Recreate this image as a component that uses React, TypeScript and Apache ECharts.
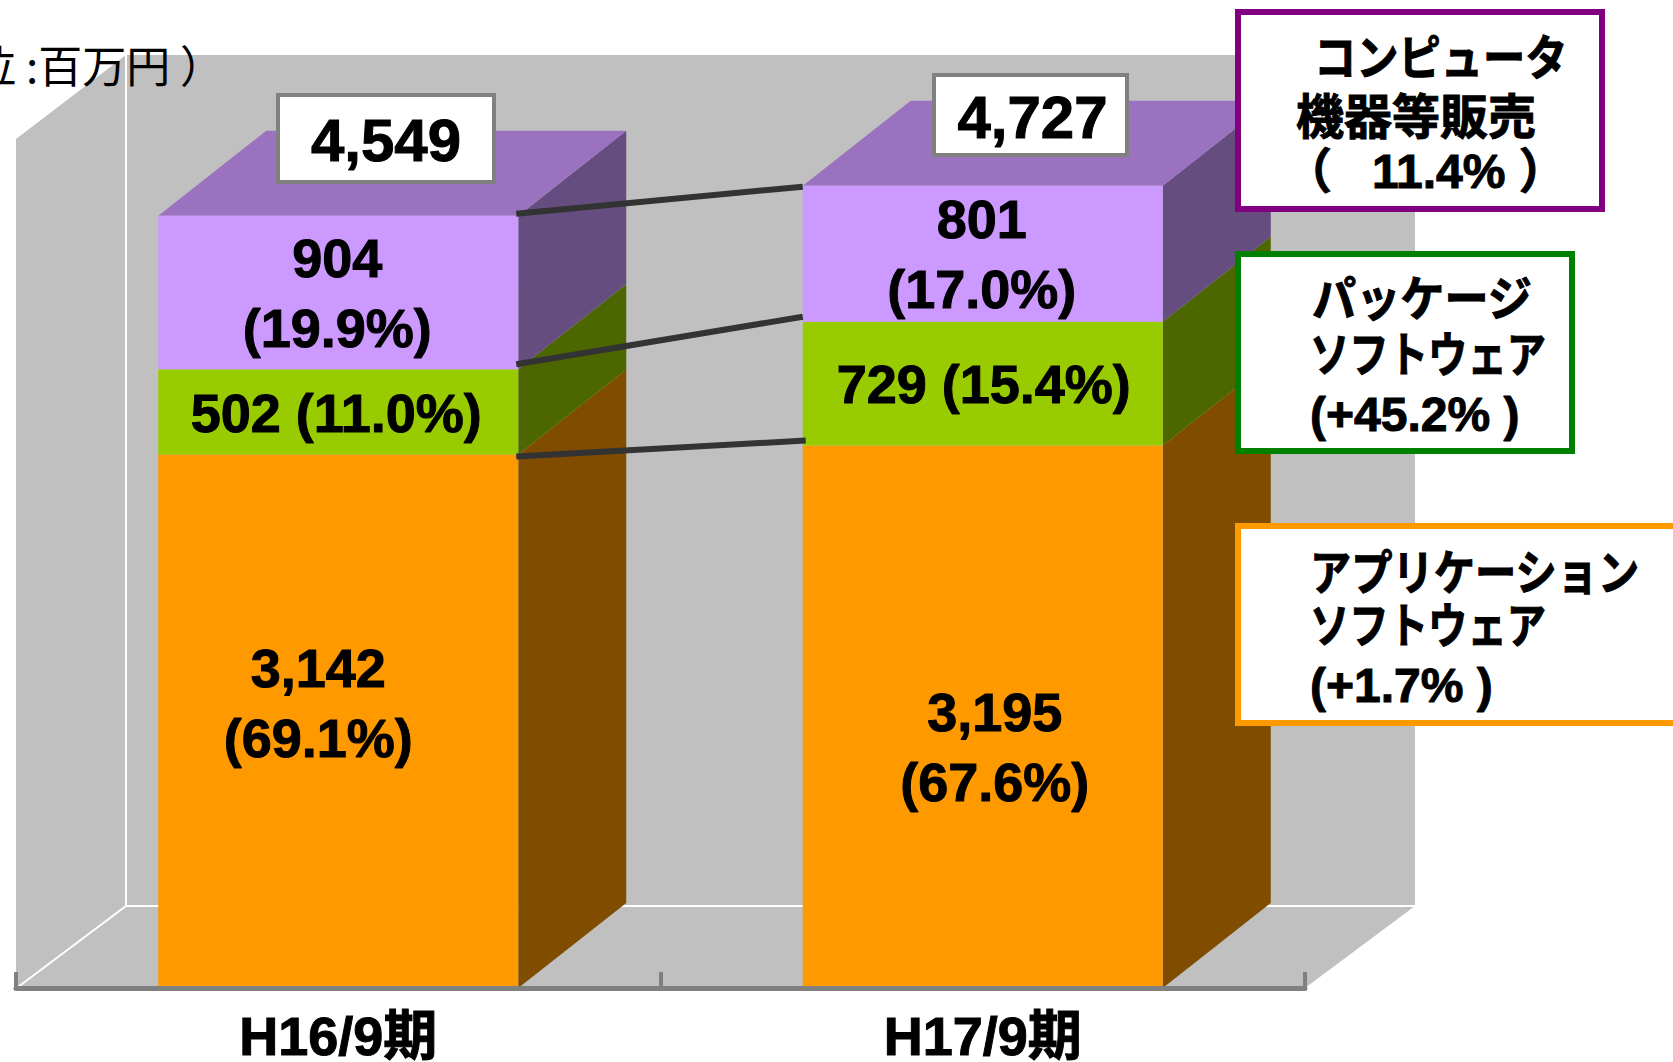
import React, { useEffect, useRef } from "react";
import * as echarts from "echarts";

const categories = ["H16/9期", "H17/9期"];
const applicationSoftware = [3142, 3195];
const packageSoftware = [502, 729];
const computerSales = [904, 801];
const totals = [4549, 4727];
const applicationShare = ["69.1", "67.6"];
const packageShare = ["11.0", "15.4"];
const computerShare = ["19.9", "17.0"];
const unitText = "（単位 :百万円 ）";

const FONT = '"Liberation Sans","Noto Sans CJK JP",sans-serif';
const WALL_DX = 110;
const WALL_DY_TOP = 84;
const WALL_DY_FLOOR = 82;
const DX = 108;
const DY = 85;
const BAR_W = 360;

const COLORS = {
  app: ["#FF9900", "#7F4C00"],
  pkg: ["#99CC00", "#4C6600"],
  com: ["#CC99FF", "#654E7F"],
  top: "#9A72BF",
  wall: "#C0C0C0",
};

const fmt = (v: number) => v.toLocaleString("en-US");

const segments = [
  { key: "app", values: applicationSoftware, color: COLORS.app, oneLine: false, share: applicationShare, offsets: [[-20, -18], [12, 30]] },
  { key: "pkg", values: packageSoftware, color: COLORS.pkg, oneLine: true, share: packageShare, offsets: [[-2, 1], [1, 0]] },
  { key: "com", values: computerSales, color: COLORS.com, oneLine: false, share: computerShare, offsets: [[-1, 1], [-1, 0]] },
];

const cumulative = [
  categories.map((_, i) => applicationSoftware[i]),
  categories.map((_, i) => applicationSoftware[i] + packageSoftware[i]),
  categories.map((_, i) => applicationSoftware[i] + packageSoftware[i] + computerSales[i]),
];

const connectorOffsets = [
  [2, -5, 3],
  [-5, -5, 0],
  [-2, 1, 0],
];

function renderWalls(_: any, api: any) {
  const band = api.size([1, 0])[0];
  const bl = api.coord([0, 0]);
  const tl = api.coord([0, 5000]);
  const x0 = bl[0] - band / 2;
  const x1 = x0 + band * 2;
  const y0 = bl[1];
  const y1 = tl[1];
  const wall = { fill: COLORS.wall };
  const white = { stroke: "#FFFFFF", lineWidth: 2, fill: "none" };
  const bx = x0 + WALL_DX;
  const by = y0 - WALL_DY_FLOOR;
  const ty = y1 - WALL_DY_TOP;
  return {
    type: "group",
    children: [
      { type: "polygon", shape: { points: [[x0, y1], [bx, ty], [bx, by], [x0, y0]] }, style: wall },
      { type: "polygon", shape: { points: [[bx, ty], [x1 + WALL_DX, ty], [x1 + WALL_DX, by], [bx, by]] }, style: wall },
      { type: "polygon", shape: { points: [[x0, y0], [bx, by], [x1 + WALL_DX, by], [x1, y0]] }, style: wall },
      { type: "polyline", shape: { points: [[x0 + 2, y0 - 1], [bx, by], [x1 + WALL_DX, by]] }, style: white },
      { type: "line", shape: { x1: bx, y1: ty, x2: bx, y2: by }, style: white },
    ],
  };
}

function renderSide(color: string) {
  return (_: any, api: any) => {
    const c = api.value(0);
    const a = api.coord([c, api.value(1)]);
    const b = api.coord([c, api.value(2)]);
    const x = a[0] + BAR_W / 2;
    return {
      type: "polygon",
      shape: { points: [[x, a[1]], [x, b[1]], [x + DX, b[1] - DY], [x + DX, a[1] - DY]] },
      style: { fill: color },
    };
  };
}

function renderTop(_: any, api: any) {
  const p = api.coord([api.value(0), api.value(1)]);
  const l = p[0] - BAR_W / 2;
  const r = p[0] + BAR_W / 2;
  return {
    type: "polygon",
    shape: { points: [[l, p[1]], [r, p[1]], [r + DX, p[1] - DY], [l + DX, p[1] - DY]] },
    style: { fill: COLORS.top },
  };
}

function renderConnector(_: any, api: any) {
  const idx = api.value(0);
  const a = api.coord([0, cumulative[idx][0]]);
  const b = api.coord([1, cumulative[idx][1]]);
  const o = connectorOffsets[idx];
  return {
    type: "line",
    shape: { x1: a[0] + BAR_W / 2 - 2, y1: a[1] + o[0], x2: b[0] - BAR_W / 2 + o[2], y2: b[1] + o[1] },
    style: { stroke: "#333333", lineWidth: 6 },
  };
}

const heavy = { stroke: "#000", lineWidth: 1 };

function totalBox(i: number, x: number, y: number, w: number, h: number, dx: number) {
  return [
    { type: "rect", z: 100, shape: { x, y, width: w, height: h }, style: { fill: "#FFFFFF", stroke: "#808080", lineWidth: 4 } },
    {
      type: "text", z: 101, x: x + w / 2 + dx, y: y + h / 2 + 2,
      style: { text: fmt(totals[i]), font: `bold 60px ${FONT}`, fill: "#000", align: "center", verticalAlign: "middle", ...heavy },
    },
  ];
}

function legendBox(x: number, y: number, w: number, h: number, stroke: string, lines: any[]) {
  return [
    { type: "rect", z: 100, shape: { x, y, width: w, height: h }, style: { fill: "#FFFFFF", stroke, lineWidth: 6 } },
    ...lines.map((l) => ({
      type: "text", z: 101, x: l.x, y: l.y, scaleX: l.sx ?? 1,
      style: { text: l.t, font: `bold ${l.fs}px ${FONT}`, fill: "#000", align: "left", verticalAlign: "middle", ...heavy },
    })),
  ];
}

export default function App() {
  const ref = useRef<HTMLDivElement>(null);
  useEffect(() => {
    const chart = echarts.init(ref.current!, null, { renderer: "svg" });
    const catIdx = categories.map((_, i) => i);
    chart.setOption({
      animation: false,
      backgroundColor: "#FFFFFF",
      grid: { left: 16, top: 139, width: 1289, height: 849, containLabel: false, outerBoundsMode: "none" },
      xAxis: {
        type: "category",
        data: categories,
        axisLine: { show: true, lineStyle: { color: "#808080", width: 5 } },
        axisTick: { show: true, inside: true, length: 16, lineStyle: { color: "#808080", width: 4 } },
        axisLabel: {
          color: "#000", fontFamily: FONT, fontWeight: "bold", fontSize: 54, lineHeight: 50, margin: 23,
          textBorderColor: "#000", textBorderWidth: 1,
        },
        z: 5,
      },
      yAxis: { type: "value", min: 0, max: 5000, show: false },
      series: [
        { type: "custom", name: "walls", data: [[0, 0]], renderItem: renderWalls, clip: false, silent: true, z: 0, encode: { x: 0, y: 1 } },
        ...segments.map((s, si) => ({
          type: "custom",
          name: s.key + "-side",
          data: catIdx.map((i) => [i, si === 0 ? 0 : cumulative[si - 1][i], cumulative[si][i]]),
          renderItem: renderSide(s.color[1]),
          encode: { x: 0, y: [1, 2] },
          clip: false,
          silent: true,
          z: 1,
        })),
        {
          type: "custom", name: "top", data: catIdx.map((i) => [i, cumulative[2][i]]),
          renderItem: renderTop, encode: { x: 0, y: 1 }, clip: false, silent: true, z: 1,
        },
        ...segments.map((s) => ({
          type: "bar",
          name: s.key,
          stack: "total",
          barWidth: BAR_W,
          itemStyle: { color: s.color[0] },
          z: 2,
          data: s.values.map((v, i) => ({
            value: v,
            label: {
              show: true,
              position: "inside",
              offset: s.offsets[i],
              formatter: `${fmt(v)}${s.oneLine ? " " : "\n"}(${s.share[i]}%)`,
              color: "#000",
              fontFamily: FONT,
              fontWeight: "bold",
              fontSize: 54,
              lineHeight: 70,
              textBorderColor: "#000",
              textBorderWidth: 1,
            },
          })),
        })),
        {
          type: "custom", name: "connectors", data: [[0, 0], [1, 0], [2, 0]],
          renderItem: renderConnector, clip: false, silent: true, z: 6, encode: { y: 1 },
        },
      ],
      graphic: {
        elements: [
          {
            type: "text", z: 100, x: 224, y: 64,
            style: { text: unitText, font: `44px "Noto Sans CJK JP",sans-serif`, fill: "#000", align: "right", verticalAlign: "middle" },
          },
          ...totalBox(0, 278, 95, 216, 87, 0),
          ...totalBox(1, 934, 75, 193, 80, 2),
          ...legendBox(1238, 12, 364, 197, "#800080", [
            { t: "コンピュータ", x: 1314, y: 59, fs: 48, sx: 0.88 },
            { t: "機器等販売", x: 1296, y: 117, fs: 48, sx: 1 },
            { t: "（   11.4% ）", x: 1284, y: 171, fs: 48 },
          ]),
          ...legendBox(1238, 254, 334, 197, "#008000", [
            { t: "パッケージ", x: 1312, y: 299, fs: 48, sx: 0.92 },
            { t: "ソフトウェア", x: 1310, y: 355, fs: 48, sx: 0.82 },
            { t: "(+45.2% )", x: 1310, y: 414, fs: 48 },
          ]),
          ...legendBox(1238, 526, 500, 197, "#FF9900", [
            { t: "アプリケーション", x: 1310, y: 573, fs: 48, sx: 0.86 },
            { t: "ソフトウェア", x: 1310, y: 626, fs: 48, sx: 0.82 },
            { t: "(+1.7% )", x: 1310, y: 685, fs: 48 },
          ]),
        ],
      },
    });
    return () => chart.dispose();
  }, []);
  return <div ref={ref} style={{ position: "absolute", left: 0, top: 0, width: 1673, height: 1062 }} />;
}
